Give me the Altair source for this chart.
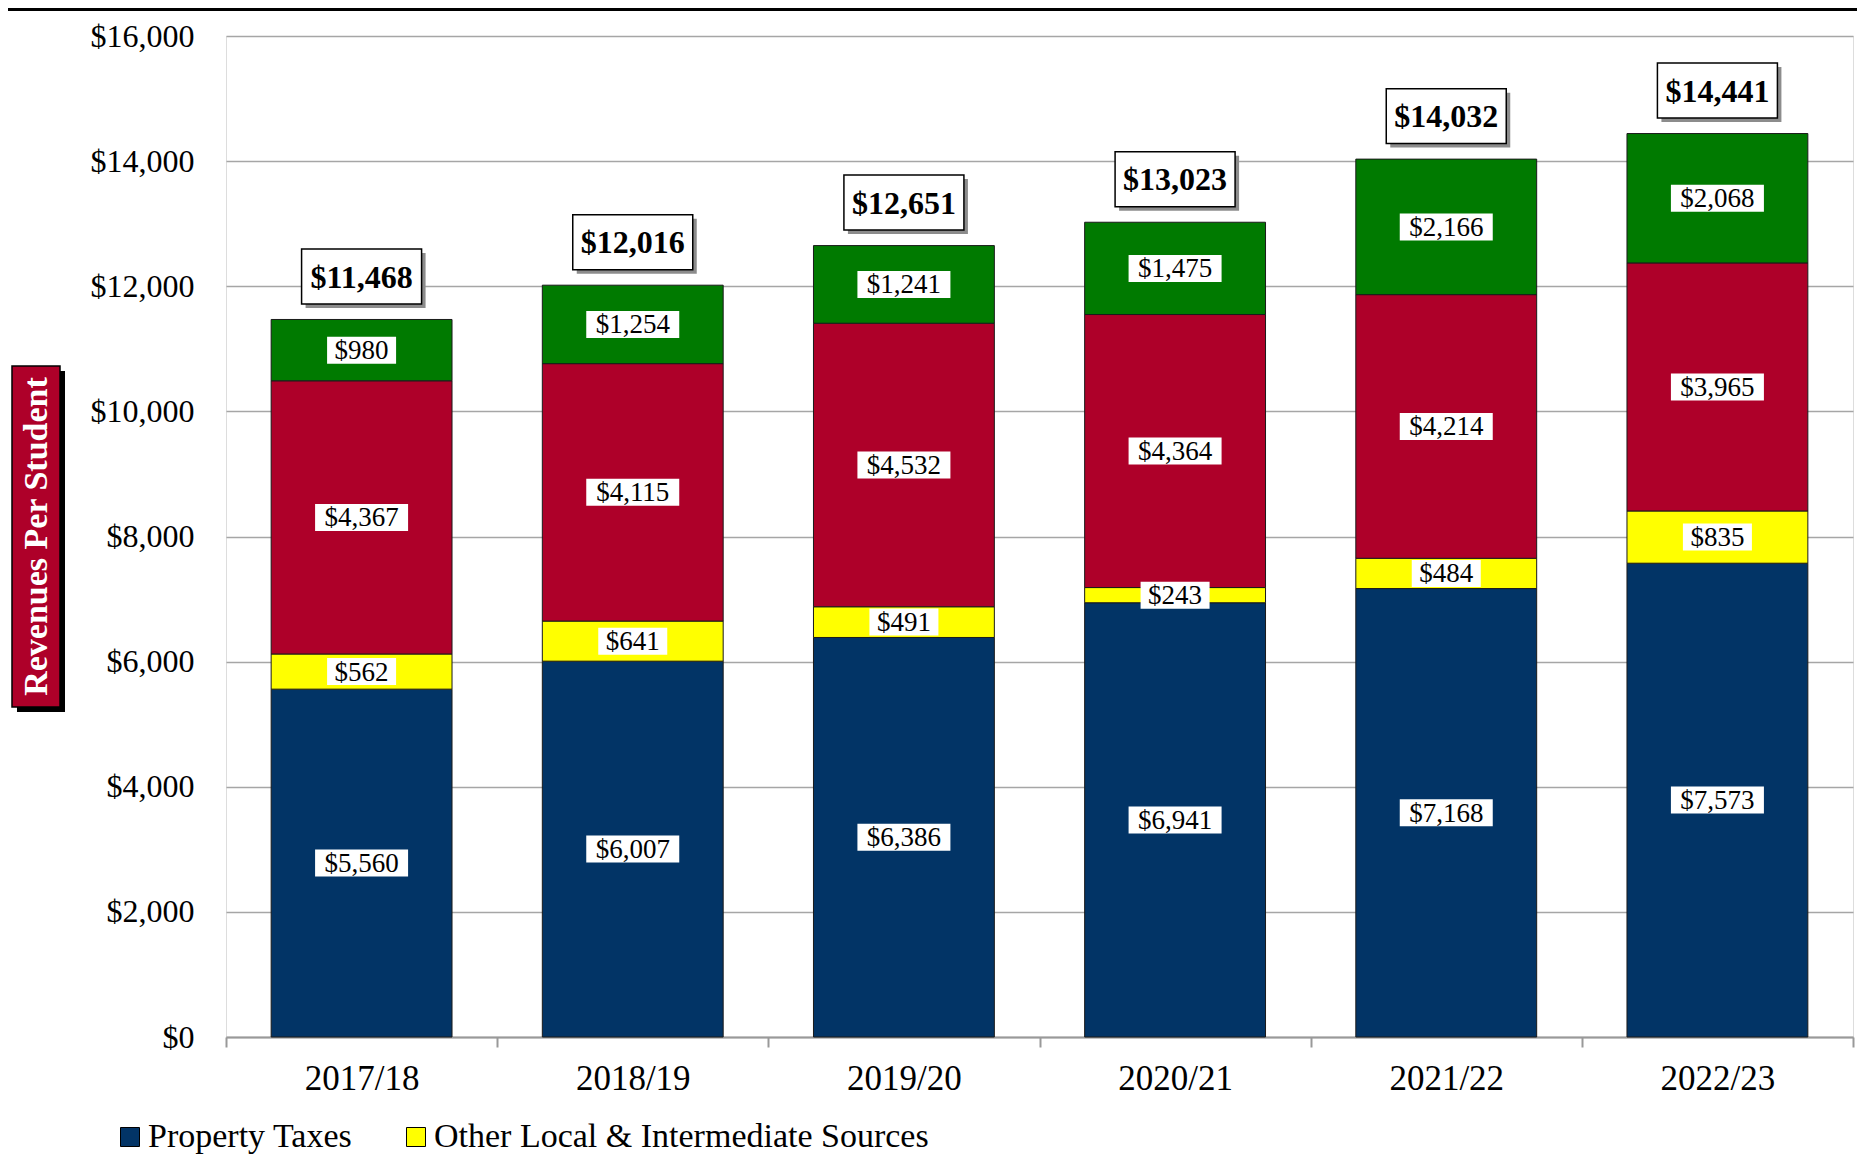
import altair as alt
import pandas as pd

years = ["2017/18", "2018/19", "2019/20", "2020/21", "2021/22", "2022/23"]
series = ["Property Taxes", "Other Local & Intermediate Sources", "State Sources", "Federal Sources"]
property_taxes = [5560, 6007, 6386, 6941, 7168, 7573]
other_local = [562, 641, 491, 243, 484, 835]
state_src = [4367, 4115, 4532, 4364, 4214, 3965]
federal_src = [980, 1254, 1241, 1475, 2166, 2068]
totals = [11468, 12016, 12651, 13023, 14032, 14441]
colors = ["#023466", "#FFFF00", "#AE0029", "#007A00"]
y_ticks = [0, 2000, 4000, 6000, 8000, 10000, 12000, 14000, 16000]

FONT = "Liberation Serif"
W, H = 1627, 1001


def box_path(w, h):
    hh = h / w
    return f"M-1,-{hh:.4f}L1,-{hh:.4f}L1,{hh:.4f}L-1,{hh:.4f}Z"


rows = []
for i, yr in enumerate(years):
    cum = 0
    for j, (s, vals) in enumerate(zip(series, [property_taxes, other_local, state_src, federal_src])):
        v = vals[i]
        lab = f"${v:,}"
        w = 12 * len(lab) + 21
        rows.append({"year": yr, "series": s, "idx": j, "value": v, "mid": cum + v / 2,
                     "label": lab, "shp": box_path(w, 27), "sz": w * w})
        cum += v
df = pd.DataFrame(rows)

tdf = pd.DataFrame({"year": years, "total": totals})
tdf["label"] = [f"${t:,}" for t in totals]
tdf["shp"] = box_path(120, 55)
tdf["sz"] = 120 * 120

xs = alt.Scale(paddingInner=0, paddingOuter=0)
ys = alt.Scale(domain=[0, 16000], nice=False)

x_axis = alt.Axis(labelAngle=0, labelFont=FONT, labelFontSize=35, labelColor="black",
                  labelPadding=14, tickBand="extent", tickSize=10, tickWidth=2,
                  tickColor="#999999", domainColor="#999999", domainWidth=2, grid=False)
y_axis = alt.Axis(values=y_ticks, format="$,.0f", labelFont=FONT, labelFontSize=32,
                  labelColor="black", labelPadding=32, ticks=False, domain=False,
                  grid=True, gridColor="#A6A6A6", gridWidth=1.5)


def X():
    return alt.X("year:N", sort=years, scale=xs, title=None, axis=x_axis)


def Y(field):
    return alt.Y(field, scale=ys, title=None, axis=y_axis)


bars = alt.Chart(df).mark_bar(stroke="#1a1a1a", strokeWidth=1,
                              width=alt.RelativeBandSize(0.667)).encode(
    x=X(),
    y=alt.Y("value:Q", stack="zero", scale=ys, title=None, axis=y_axis),
    color=alt.Color("series:N", scale=alt.Scale(domain=series, range=colors),
                    legend=alt.Legend(values=series[:2], title=None, orient="none",
                                      legendX=-113, legendY=1084, direction="horizontal",
                                      symbolType="square", symbolSize=361,
                                      symbolStrokeColor="black", symbolStrokeWidth=1,
                                      labelFont=FONT, labelFontSize=34, labelColor="black",
                                      labelOffset=1, columnPadding=46, padding=0,
                                      labelLimit=800)),
    order=alt.Order("idx:Q"),
)

seg_boxes = alt.Chart(df).mark_point(filled=True, fill="white", opacity=1, strokeWidth=0).encode(
    x=X(),
    y=Y("mid:Q"),
    shape=alt.Shape("shp:N", scale=None, legend=None),
    size=alt.Size("sz:Q", scale=None, legend=None),
)
seg_text = alt.Chart(df).mark_text(font=FONT, fontSize=27, color="black", baseline="middle", dy=1).encode(
    x=X(),
    y=Y("mid:Q"),
    text="label:N",
)

tot_shadow = alt.Chart(tdf).mark_point(filled=True, fill="#8c8c8c", opacity=1, strokeWidth=0,
                                       xOffset=4, yOffset=-39).encode(
    x=X(),
    y=Y("total:Q"),
    shape=alt.Shape("shp:N", scale=None, legend=None),
    size=alt.Size("sz:Q", scale=None, legend=None),
)
tot_boxes = alt.Chart(tdf).mark_point(filled=True, fill="white", opacity=1, stroke="black",
                                      strokeWidth=1.5, yOffset=-43).encode(
    x=X(),
    y=Y("total:Q"),
    shape=alt.Shape("shp:N", scale=None, legend=None),
    size=alt.Size("sz:Q", scale=None, legend=None),
)
tot_text = alt.Chart(tdf).mark_text(font=FONT, fontSize=32, fontWeight="bold", color="black",
                                    baseline="middle", dy=-42).encode(
    x=X(),
    y=Y("total:Q"),
    text="label:N",
)

one = pd.DataFrame({"a": [0]})
title_path = f"M-{48/341:.4f},-1L{48/341:.4f},-1L{48/341:.4f},1L-{48/341:.4f},1Z"
title_shadow = alt.Chart(one).mark_point(shape=title_path, size=341 * 341, filled=True, fill="black",
                                         opacity=1, strokeWidth=0).encode(
    x=alt.value(-185), y=alt.value(505.5))
title_box = alt.Chart(one).mark_point(shape=title_path, size=341 * 341, filled=True, fill="#AE0029",
                                      opacity=1, stroke="black", strokeWidth=1.5).encode(
    x=alt.value(-190), y=alt.value(500.5))
title_text = alt.Chart(one).mark_text(text="Revenues Per Student", angle=270, font=FONT, fontSize=34,
                                      fontWeight="bold", color="white", baseline="middle",
                                      align="center").encode(
    x=alt.value(-189), y=alt.value(500.5))
top_rule = alt.Chart(one).mark_rule(color="black", strokeWidth=3).encode(
    x=alt.value(-218), x2=alt.value(W + 4), y=alt.value(-26.5))

chart = alt.layer(
    bars, seg_boxes, seg_text, tot_shadow, tot_boxes, tot_text,
    title_shadow, title_box, title_text, top_rule
).properties(
    width=W, height=H,
    autosize=alt.AutoSizeParams(type="none"),
    padding={"left": 218, "top": 28, "right": 4, "bottom": 140},
).configure_view(stroke="#A6A6A6", strokeWidth=2).configure(background="white")

chart.save("out.html", embed_options={"renderer": "svg", "actions": False})
